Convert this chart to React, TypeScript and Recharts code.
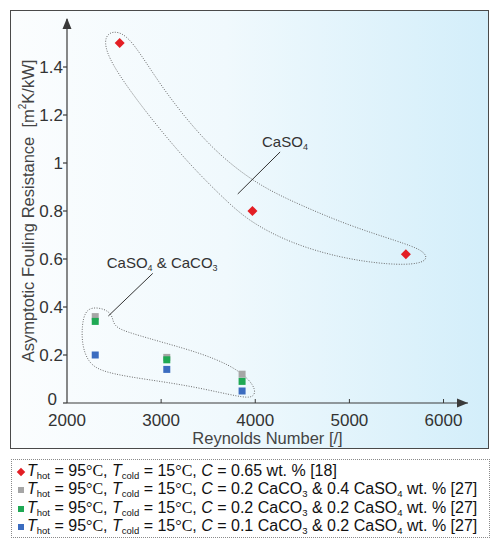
import React from "react";
import {
  ComposedChart,
  Line,
  ReferenceDot,
  ReferenceLine,
  Scatter,
  XAxis,
  YAxis,
} from "recharts";

// CaSO4 only (red diamonds)
const caso4X = [2560, 3970, 5600];
const caso4Y = [1.5, 0.8, 0.62];

// CaSO4 & CaCO3 mixtures (squares), same Reynolds numbers for all three
const mixX = [2300, 3060, 3860];
const grayY = [0.36, 0.19, 0.12];
const greenY = [0.34, 0.18, 0.09];
const blueY = [0.2, 0.14, 0.05];

const xTicks = [2000, 3000, 4000, 5000, 6000];
const yTicks = [0, 0.2, 0.4, 0.6, 0.8, 1, 1.2, 1.4];
const yTickLabels = ["0", "0.2", "0.4", "0.6", "0.8", "1", "1.2", "1.4"];

// dotted outlines around the two groups (data units)
const bigOutlineX = [2542, 2691, 2988, 3360, 3679, 4051, 4476, 5007, 5539, 5773, 5836, 5751, 5433, 4901, 4370, 3945, 3679, 3254, 2776, 2457, 2393, 2436];
const bigOutlineY = [1.55, 1.513, 1.325, 1.1375, 1.0125, 0.904, 0.825, 0.7375, 0.671, 0.6375, 0.604, 0.579, 0.575, 0.604, 0.667, 0.754, 0.846, 1.0125, 1.2417, 1.421, 1.504, 1.542];
const smallOutlineX = [2266, 2404, 2478, 2489, 2531, 2670, 3041, 3413, 3732, 3923, 4009, 3977, 3838, 3413, 3041, 2670, 2351, 2223, 2159, 2159, 2191];
const smallOutlineY = [0.4, 0.392, 0.367, 0.3375, 0.3125, 0.2917, 0.25, 0.2083, 0.158, 0.104, 0.054, 0.021, 0.025, 0.0625, 0.0875, 0.108, 0.133, 0.171, 0.242, 0.325, 0.379];

const RED = "#e31e24";
const GRAY = "#a6a6a6";
const GREEN = "#1fa954";
const BLUE = "#3b6cc0";
const AXIS = "#3a3a3a";
const FONT = "'Liberation Sans', Arial, sans-serif";

const zip = (xs: number[], ys: number[]) => xs.map((x, i) => ({ x, y: ys[i] }));

const redData = zip(caso4X, caso4Y);
const grayData = zip(mixX, grayY);
const greenData = zip(mixX, greenY);
const blueData = zip(mixX, blueY);
const bigOutline = zip(bigOutlineX, bigOutlineY);
const smallOutline = zip(smallOutlineX, smallOutlineY);

const square = (color: string) => (p: any) =>
  <rect x={p.cx - 3.5} y={p.cy - 3.5} width={7} height={7} fill={color} />;

const diamond = (p: any) => (
  <polygon
    points={`${p.cx},${p.cy - 5} ${p.cx + 5},${p.cy} ${p.cx},${p.cy + 5} ${p.cx - 5},${p.cy}`}
    fill={RED}
  />
);

const XTick = (p: any) => (
  <g>
    {p.payload.value !== xTicks[0] && (
      <line x1={p.x} x2={p.x} y1={p.y} y2={p.y - 4} stroke={AXIS} />
    )}
    <text x={p.x} y={p.y + 23} textAnchor="middle" fontSize={17} fill="#333" fontFamily={FONT}>
      {p.payload.value}
    </text>
  </g>
);

const YTick = (p: any) => {
  const i = yTicks.indexOf(p.payload.value);
  const zero = p.payload.value === 0;
  return (
    <text
      x={p.x - (zero ? 6 : 0)}
      y={p.y - (zero ? 4 : 0)}
      dy="0.36em"
      textAnchor="end"
      fontSize={17}
      fill="#333"
      fontFamily={FONT}
    >
      {yTickLabels[i]}
    </text>
  );
};

const arrowRight = (p: any) => (
  <polygon points={`${p.cx},${p.cy} ${p.cx - 11},${p.cy - 4.5} ${p.cx - 11},${p.cy + 4.5}`} fill={AXIS} />
);
const arrowUp = (p: any) => (
  <polygon points={`${p.cx},${p.cy - 1} ${p.cx - 4.5},${p.cy + 10} ${p.cx + 4.5},${p.cy + 10}`} fill={AXIS} />
);

const noteCaSO4 = (p: any) => (
  <text x={p.cx} y={p.cy} fontSize={15} fill="#333" fontFamily={FONT}>
    CaSO<tspan fontSize={9} dy={3}>4</tspan>
  </text>
);
const noteMix = (p: any) => (
  <text x={p.cx} y={p.cy} fontSize={15} fill="#333" fontFamily={FONT}>
    CaSO<tspan fontSize={9} dy={3}>4</tspan>
    <tspan dy={-3}> &amp; CaCO</tspan>
    <tspan fontSize={9} dy={3}>3</tspan>
  </text>
);

const XTitle = ({ viewBox }: any) => (
  <text x={viewBox.x + viewBox.width / 2} y={viewBox.y + 41} textAnchor="middle" fontSize={16.5} fill="#444" fontFamily={FONT}>
    Reynolds Number [/]
  </text>
);
const YTitle = ({ viewBox }: any) => {
  const cx = viewBox.x + 18;
  const cy = viewBox.y + viewBox.height / 2;
  return (
    <text
      x={cx}
      y={cy}
      transform={`rotate(-90, ${cx}, ${cy})`}
      textAnchor="middle"
      dominantBaseline="central"
      fontSize={16.5}
      fill="#444"
      fontFamily={FONT}
    >
      Asymptotic Fouling Resistance{"\u00a0 "}[m<tspan fontSize={10} dy={-6}>2</tspan>
      <tspan dy={6}>K/kW]</tspan>
    </text>
  );
};

const Sub = ({ children }: { children: React.ReactNode }) => (
  <span style={{ fontSize: 9.5, position: "relative", top: 3, lineHeight: 0 }}>{children}</span>
);
const Deg = () => <span style={{ fontFamily: "'Liberation Serif', serif", lineHeight: 0 }}>°C</span>;

const legendColors = [RED, GRAY, GREEN, BLUE];
const legendTail = [
  <>0.65 wt. % [18]</>,
  <>0.2 CaCO<Sub>3</Sub> &amp; 0.4 CaSO<Sub>4</Sub> wt. % [27]</>,
  <>0.2 CaCO<Sub>3</Sub> &amp; 0.2 CaSO<Sub>4</Sub> wt. % [27]</>,
  <>0.1 CaCO<Sub>3</Sub> &amp; 0.2 CaSO<Sub>4</Sub> wt. % [27]</>,
];

export default function App() {
  return (
    <div style={{ position: "relative", width: 484, height: 532, fontFamily: FONT }}>
      <div
        style={{
          position: "absolute",
          left: 2,
          top: 2,
          width: 479,
          height: 439,
          boxSizing: "border-box",
          border: "1.5px solid #4a4a4a",
          background: "linear-gradient(90deg, #fbfdfe 0%, #f0f9fd 45%, #d3eefa 100%)",
        }}
      />
      <div style={{ position: "absolute", left: 2, top: 2 }}>
        <ComposedChart width={480} height={440} margin={{ top: 9, right: 22, bottom: 0, left: 0 }}>
          <XAxis
            type="number"
            dataKey="x"
            domain={[2000, 6260]}
            allowDataOverflow
            ticks={xTicks}
            tickLine={false}
            tickSize={0}
            tickMargin={0}
            height={47}
            stroke={AXIS}
            strokeWidth={1.2}
            tick={XTick}
            label={{ content: XTitle }}
          />
          <YAxis
            type="number"
            dataKey="y"
            domain={[0, 1.6]}
            allowDataOverflow
            ticks={yTicks}
            tickSize={4}
            tickMargin={0}
            width={57}
            stroke={AXIS}
            strokeWidth={1.2}
            tick={YTick}
            label={{ content: YTitle }}
          />
          <Line
            data={bigOutline}
            dataKey="y"
            type="basisClosed"
            stroke="#6b6b6b"
            strokeWidth={1}
            strokeDasharray="1 1.5"
            dot={false}
            activeDot={false}
            isAnimationActive={false}
          />
          <Line
            data={smallOutline}
            dataKey="y"
            type="basisClosed"
            stroke="#6b6b6b"
            strokeWidth={1}
            strokeDasharray="1 1.5"
            dot={false}
            activeDot={false}
            isAnimationActive={false}
          />
          <ReferenceLine segment={[{ x: 4264, y: 1.046 }, { x: 3814, y: 0.871 }]} stroke="#333" strokeWidth={1} />
          <ReferenceLine segment={[{ x: 2911, y: 0.54 }, { x: 2439, y: 0.3625 }]} stroke="#333" strokeWidth={1} />
          <ReferenceDot x={4072} y={1.067} r={0} shape={noteCaSO4} />
          <ReferenceDot x={2422} y={0.5625} r={0} shape={noteMix} />
          <ReferenceDot x={6260} y={0} r={0} shape={arrowRight} ifOverflow="visible" />
          <ReferenceDot x={2000} y={1.6} r={0} shape={arrowUp} ifOverflow="visible" />
          <Scatter data={grayData} dataKey="y" shape={square(GRAY)} isAnimationActive={false} />
          <Scatter data={greenData} dataKey="y" shape={square(GREEN)} isAnimationActive={false} />
          <Scatter data={blueData} dataKey="y" shape={square(BLUE)} isAnimationActive={false} />
          <Scatter data={redData} dataKey="y" shape={diamond} isAnimationActive={false} />
        </ComposedChart>
      </div>
      <div
        style={{
          position: "absolute",
          left: 3,
          top: 451,
          width: 479,
          height: 79,
          boxSizing: "border-box",
          border: "1px dotted #8a8a8a",
          padding: "2px 0 0 6px",
          fontSize: 16,
          color: "#111",
          whiteSpace: "nowrap",
        }}
      >
        {legendColors.map((c, i) => (
          <div key={i} style={{ height: 18.3, lineHeight: "18.3px" }}>
            <span
              style={{
                display: "inline-block",
                width: 6,
                height: 6,
                background: c,
                marginRight: 3,
                verticalAlign: 1,
                transform: i === 0 ? "rotate(45deg)" : undefined,
              }}
            />
            <i>T</i>
            <Sub>hot</Sub> = 95<Deg />, <i>T</i>
            <Sub>cold</Sub> = 15<Deg />, <i>C</i> = {legendTail[i]}
          </div>
        ))}
      </div>
    </div>
  );
}
